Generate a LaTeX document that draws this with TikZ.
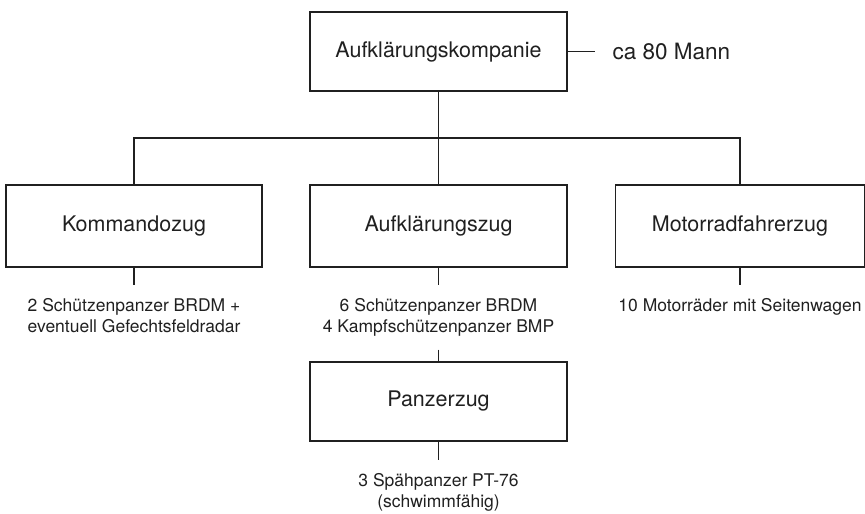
\documentclass[tikz,border=0pt]{standalone}
\usepackage{fontspec}
\setmainfont{TeX Gyre Heros}
\definecolor{ink}{HTML}{202020}
\begin{document}
\begin{tikzpicture}[x=1pt,y=-1pt,
  line width=1.3pt, draw=ink, text=ink,
  unitbox/.style={draw, rectangle, inner sep=0pt, font=\fontsize{21.5}{25}\selectfont},
  info/.style={align=center, inner xsep=0pt, inner ysep=13pt, font=\fontsize{17.5}{20.5}\selectfont}]
\useasboundingbox (0,0) rectangle (865,514);
% boxes
\node[unitbox, minimum width=257pt, minimum height=79pt] (top) at (438.5,51.5) {Aufklärungskompanie};
\node[unitbox, minimum width=256pt, minimum height=82pt] (kz) at (134,226) {Kommandozug};
\node[unitbox, minimum width=257pt, minimum height=82pt] (az) at (438.5,226) {Aufklärungszug};
\node[unitbox, minimum width=249pt, minimum height=82pt] (mz) at (740,226) {Motorradfahrerzug};
\node[unitbox, minimum width=257pt, minimum height=79pt] (pz) at (438.5,401.5) {Panzerzug};
% annotation
\node[anchor=west, inner xsep=17pt, font=\fontsize{22.5}{26}\selectfont] (ca) at (595,51.5) {ca 80 Mann};
\draw (top.east) -- (ca.west);
% info texts
\node[info, anchor=north] (kzt) at (kz.south |- 0,285) {2 Schützenpanzer BRDM +\\eventuell Gefechtsfeldradar};
\node[info, anchor=north] (azt) at (az.south |- 0,285) {6 Schützenpanzer BRDM\\4 Kampfschützenpanzer BMP};
\node[info, anchor=north] (mzt) at (mz.south |- 0,285) {10 Motorräder mit Seitenwagen};
\node[info, anchor=north] (pzt) at (pz.south |- 0,460) {3 Spähpanzer PT-76\\(schwimmfähig)};
% tree
\coordinate (bus) at (438.5,138);
\draw (top.south) -- (az.north);
\draw (kz.north) |- (bus) -| (mz.north);
% stubs
\draw (kz.south) -- (kzt.north);
\draw (az.south) -- (azt.north);
\draw (azt.south) -- (pz.north);
\draw (mz.south) -- (mzt.north);
\draw (pz.south) -- (pzt.north);
\end{tikzpicture}
\end{document}
